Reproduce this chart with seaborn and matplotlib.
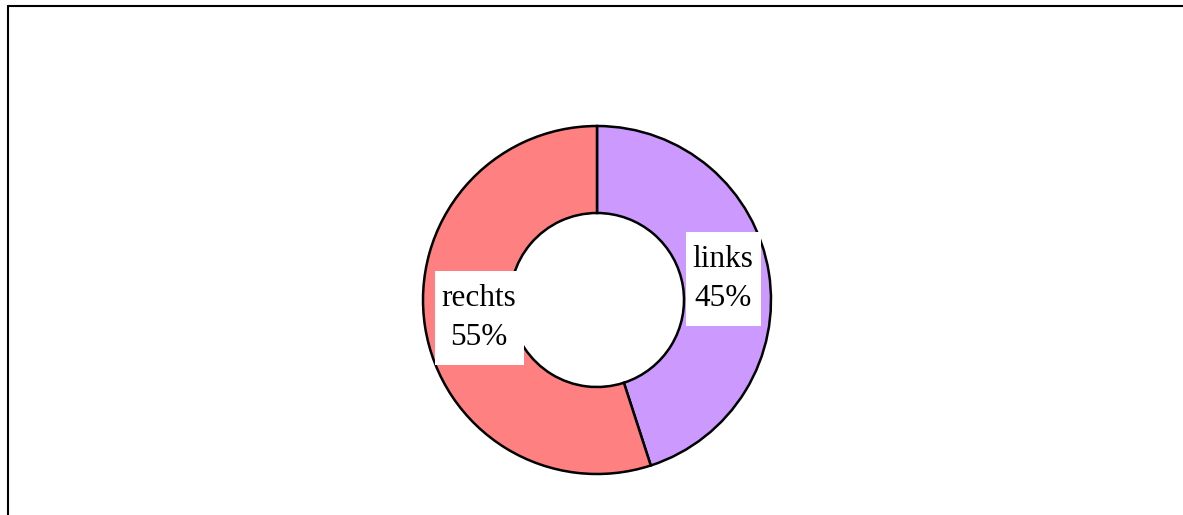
import matplotlib
matplotlib.use("Agg")
import matplotlib.pyplot as plt
from matplotlib.lines import Line2D
from matplotlib.path import Path
import numpy as np
import seaborn as sns

# data
labels = ["links", "rechts"]
shares = [45, 55]
colors = ["#cc99ff", "#ff8080"]

sns.set_theme(style="white")
plt.rcParams['font.family'] = ['Liberation Serif', 'DejaVu Serif']

W, H = 1183, 515
fig = plt.figure(figsize=(W / 100, H / 100), dpi=100)

# donut centre and size in pixels
cx, cy, r = 597, 300, 174
half = r * 1.1
ax = fig.add_axes([(cx - half) / W, (H - cy - half) / H, 2 * half / W, 2 * half / H])

wedges, _ = ax.pie(shares, colors=colors, startangle=90, counterclock=False, radius=1,
                   wedgeprops=dict(width=0.5, edgecolor='black', linewidth=1.8))
ax.set_xlim(-1.1, 1.1)
ax.set_ylim(-1.1, 1.1)
ax.set_aspect('equal')
ax.axis('off')


def label_box(x0, y0, width, height, mutation_size):
    # wider padding top/bottom than left/right, like an html line box
    px, py = 7, 13
    x0, y0 = x0 - px, y0 - py
    x1, y1 = x0 + width + 2 * px, y0 + height + 2 * py
    return Path([(x0, y0), (x1, y0), (x1, y1), (x0, y1), (x0, y0)], closed=True)


start = 90.0
for lab, val in zip(labels, shares):
    mid = np.deg2rad(start - val * 360 / 100 / 2)
    start -= val * 360 / 100
    ax.annotate(f"{lab}\n{val}%", (0.71 * np.cos(mid), 0.71 * np.sin(mid)),
                xytext=(3, 1), textcoords='offset points',
                ha='center', va='center', fontsize=22.5, linespacing=1.45, color='black',
                bbox=dict(boxstyle=label_box, facecolor='white', edgecolor='none'))

# outer frame (partially cropped)
fig.add_artist(Line2D([8 / W, 8 / W], [0, 1 - 5.5 / H], color='black', lw=1.5))
fig.add_artist(Line2D([8 / W, 1], [1 - 5.5 / H, 1 - 5.5 / H], color='black', lw=1.5))

fig.savefig("out.png", dpi=100, facecolor='white')
